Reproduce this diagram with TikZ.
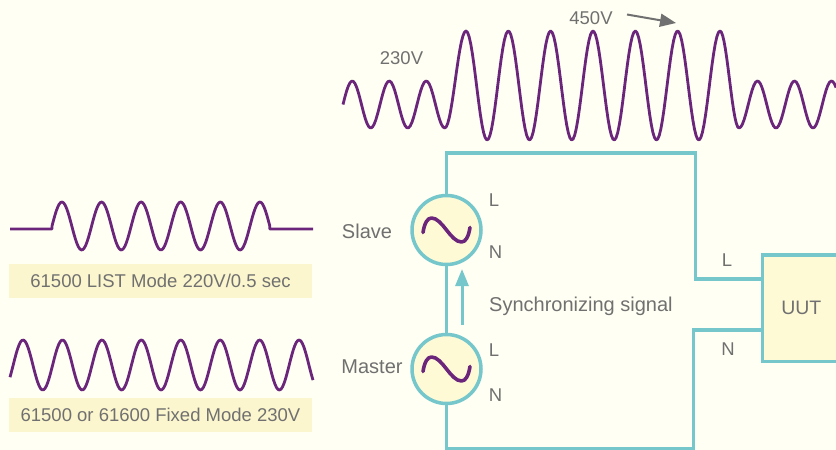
\documentclass[tikz,border=0pt]{standalone}
\usepackage{fontspec}
\setmainfont{Liberation Sans}
\usetikzlibrary{arrows.meta}
\definecolor{paper}{RGB}{255,255,243}
\definecolor{purplewave}{RGB}{107,37,122}
\definecolor{tealwire}{RGB}{118,199,204}
\definecolor{textgray}{RGB}{112,112,112}
\definecolor{cream}{RGB}{255,250,214}
\definecolor{labelbg}{RGB}{252,246,206}
\begin{document}
\begin{tikzpicture}[x=1pt, y=-1pt,
  wave/.style={draw=purplewave, line width=2.8pt, line join=round},
  wire/.style={draw=tealwire, line width=3.5pt},
  txt/.style={text=textgray, font=\fontsize{18.5}{20}\selectfont, inner sep=0},
  bigtxt/.style={txt, font=\fontsize{20}{22}\selectfont},
  source/.style={circle, wire, fill=cream, minimum size=69pt, inner sep=0},
  uutbox/.style={rectangle, wire, fill=cream, minimum width=78pt, minimum height=106.5pt, text=textgray, font=\fontsize{19.5}{22}\selectfont},
  caption/.style={txt, fill=labelbg, minimum width=303pt, minimum height=34pt}]
  \fill[paper] (0,0) rectangle (836,450);
  \useasboundingbox (0,0) rectangle (836,450);
  \draw[wave] plot[domain=343:444.75, samples=60] (\x, {104.5-23.5*sin((\x-343)/37*360)})
    -- plot[domain=0:1, samples=15] ({444.75+21.25*\x}, {128-48.5*(1-cos(180*\x))})
    -- plot[domain=466:720, samples=160] (\x, {85.5-54.5*cos((\x-466)/42.33*360)})
    -- plot[domain=0:1, samples=15] ({720+19*\x}, {31+48.5*(1-cos(180*\x))})
    -- plot[domain=739:836, samples=60] (\x, {104.5+23.5*cos((\x-739)/37*360)});
  \draw[wave] (10,229) -- (52,229) -- plot[domain=52:269.8, samples=150] (\x, {226-24*sin((\x-52)/39.6*360)}) -- (269.8,229) -- (313,229);
  \draw[wave] plot[domain=10:313, samples=200] (\x, {365-25*sin((\x-13.2)/39.43*360)});
  \node[caption] (listcap) at (160.5,281) {61500 LIST Mode 220V/0.5 sec};
  \node[caption] (fixedcap) at (160.5,414.5) {61500 or 61600 Fixed Mode 230V};
  \node[txt] (v230) at (401.5,58) {230V};
  \node[txt] (v450) at (591,18) {450V};
  \coordinate (risetail) at (627,14.5);
  \coordinate (risehead) at (676,23);
  \draw[textgray, line width=2pt, -{Triangle[length=16pt,width=13pt]}] (risetail) -- (risehead);
  \node[source] (slave) at (446.5,230) {};
  \node[source] (master) at (446.5,369) {};
  \foreach \n in {slave, master}
    \draw[wave, line width=3.6pt, line cap=round, shift={(\n)}] (-23.5,2.5) .. controls (-22,-7) and (-19,-12) .. (-15,-12) .. controls (-4,-12) and (4,12) .. (15,12) .. controls (19,12) and (22,7) .. (23.5,-2.5);
  \node[uutbox] (uut) at (801.3,308.3) {UUT};
  \coordinate (bendL) at (695.7,153);
  \coordinate (bendN) at (693.3,448.3);
  \coordinate (uutL) at (uut.west |- 0,279);
  \coordinate (uutN) at (uut.west |- 0,330);
  \draw[wire] (slave.north) |- (bendL) |- (uutL);
  \draw[wire] (slave.south) -- (master.north);
  \draw[wire] (master.south) |- (bendN) |- (uutN);
  \coordinate (synctail) at (462,325);
  \coordinate (synchead) at (462,269);
  \draw[tealwire, line width=3pt, -{Triangle[length=17pt,width=13pt]}] (synctail) -- (synchead);
  \node[bigtxt] (slavelbl) at (367,231) {Slave};
  \node[bigtxt] (masterlbl) at (372,367) {Master};
  \node[txt] (slaveL) at (494,200.5) {L};
  \node[txt] (slaveN) at (495.5,252.5) {N};
  \node[txt] (masterL) at (494,350) {L};
  \node[txt] (masterN) at (495.5,395.5) {N};
  \node[txt] (uutLlbl) at (727,260.5) {L};
  \node[txt] (uutNlbl) at (728,349.5) {N};
  \node[bigtxt, anchor=west] (synclbl) at (489,306) {Synchronizing signal};
\end{tikzpicture}
\end{document}
